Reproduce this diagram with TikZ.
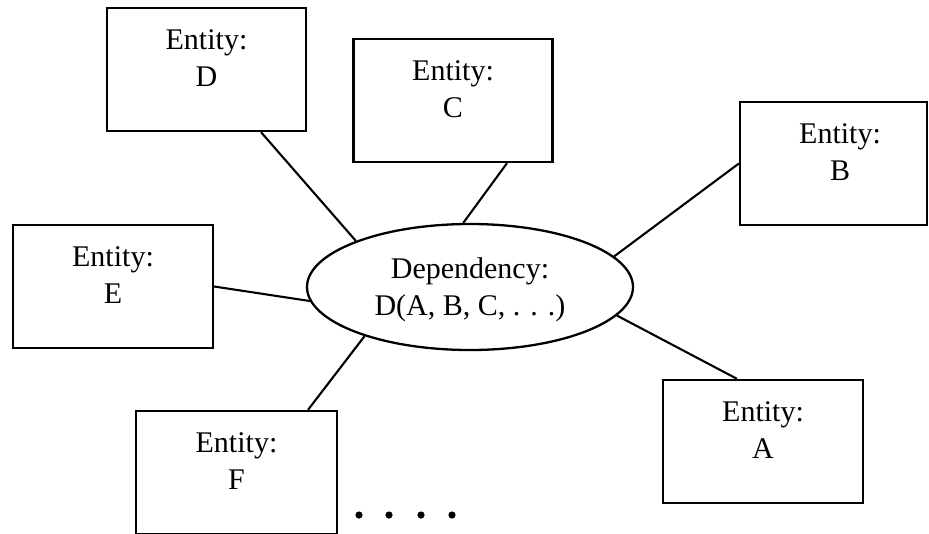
\documentclass[tikz,border=0pt]{standalone}
\usepackage{fontspec}
\setmainfont{Liberation Serif}
\usetikzlibrary{shapes.geometric}
\begin{document}
\begin{tikzpicture}[x=1pt,y=-1pt,
  entity/.style={draw, line width=2.3pt, minimum width=199pt, minimum height=123pt, inner sep=0pt},
  etext/.style={align=center, font=\fontsize{30}{37}\selectfont, inner sep=0pt},
  link/.style={line width=2.1pt},
  depnode/.style={ellipse, draw, line width=2.3pt, minimum width=326pt, minimum height=126pt,
    inner sep=0pt}]
\clip (0,0) rectangle (929,533);
\fill[white] (0,0) rectangle (929,533);
% central dependency
\node[depnode] (dep) at (470,287) {};
\node[etext] (dept) at ([yshift=-3pt]dep.center) {Dependency:\\D(A, B, C, . . .)};
% entities
\node[entity] (D) at (206.5,69.5) {};
\node[etext] (Dt) at ([yshift=11pt]D.center) {Entity:\\D};
\node[entity] (C) at (453,100.5) {};
\node[etext] (Ct) at ([yshift=11pt]C.center) {Entity:\\C};
\node[entity, minimum width=187pt] (B) at (833.5,163.5) {};
\node[etext] (Bt) at ([xshift=6.5pt,yshift=11pt]B.center) {Entity:\\B};
\node[entity, minimum width=200pt] (E) at (113,286.5) {};
\node[etext] (Et) at ([yshift=11pt]E.center) {Entity:\\E};
\node[entity, minimum width=200pt] (A) at (763,441.5) {};
\node[etext] (At) at ([yshift=11pt]A.center) {Entity:\\A};
\node[entity, minimum width=201pt] (F) at (236.5,472.5) {};
\node[etext] (Ft) at ([yshift=11pt]F.center) {Entity:\\F};
% connectors
\draw[link] ([xshift=54.5pt]D.south) -- (dep.158);
\draw[link] ([xshift=54pt]C.south) -- (dep.96);
\draw[link] (B.west) -- (dep.12);
\draw[link] (E.east) -- (dep.185);
\draw[link] ([xshift=-26pt]A.north) -- (dep.349);
\draw[link] ([xshift=71.5pt]F.north) -- (dep.205);
% ellipsis dots
\foreach \x in {359,389,421,452} \fill (\x,515) circle (3.6pt);
\end{tikzpicture}
\end{document}
